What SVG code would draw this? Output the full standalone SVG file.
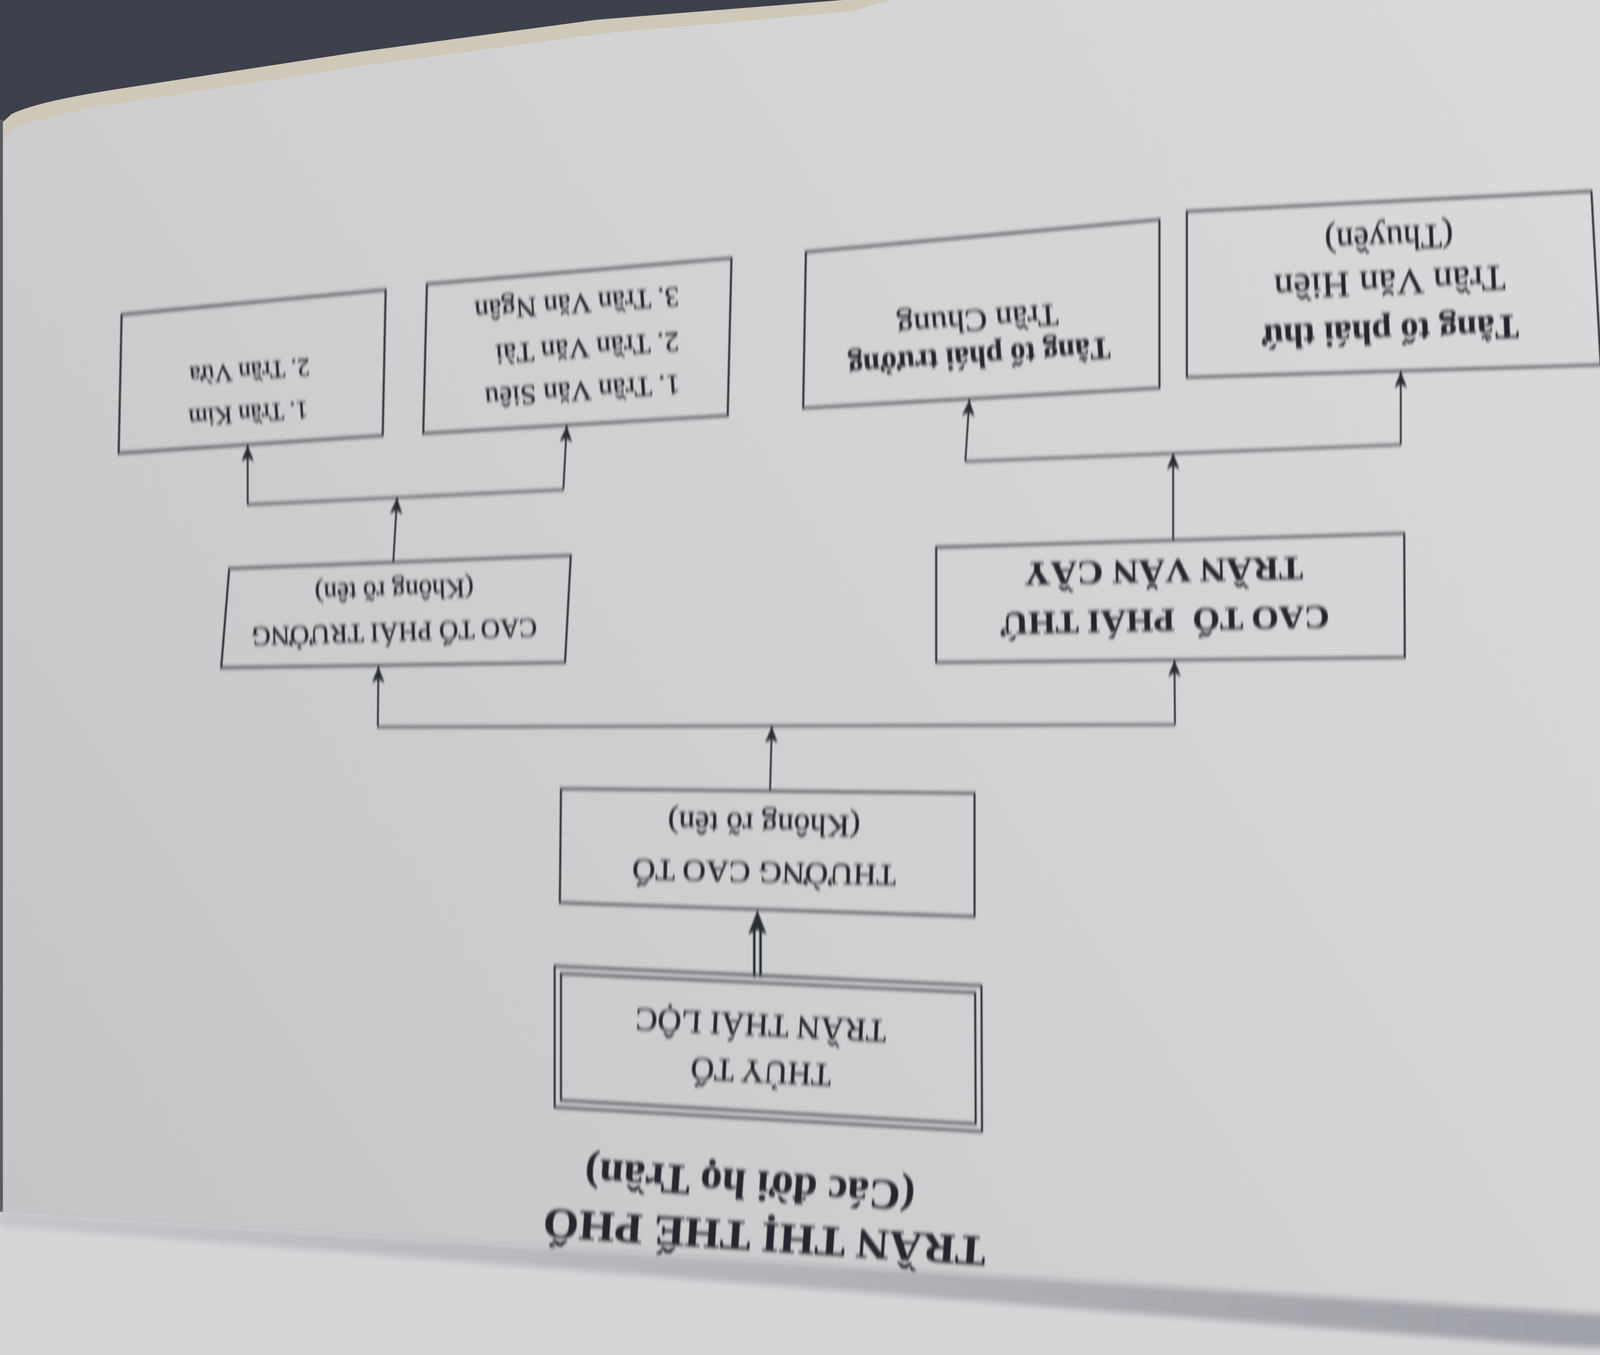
<svg xmlns="http://www.w3.org/2000/svg" width="4624" height="3468" viewBox="0 0 4624 3468">
<defs>
<style>
.t{font-family:"Liberation Serif","DejaVu Serif","Times New Roman",serif;fill:#26272d;stroke:#26272d;stroke-width:0.35;}
.b{font-weight:bold;stroke-width:0.2;}
.box{fill:none;stroke:#33343a;stroke-width:1.8;stroke-linejoin:miter;}
.ln{fill:none;stroke:#33343a;stroke-width:1.6;}
.dbl{fill:none;stroke:#2c2d33;stroke-width:2.2;}
.ar{marker-end:url(#arr);}
</style>
<linearGradient id="pageG" x1="1568" y1="0" x2="0" y2="1060" gradientUnits="userSpaceOnUse">
<stop offset="0" stop-color="#dcdcde"/>
<stop offset="0.55" stop-color="#d1d1d3"/>
<stop offset="1" stop-color="#c5c5c8"/>
</linearGradient>
<linearGradient id="shadowG" x1="0" y1="0" x2="1568" y2="0" gradientUnits="userSpaceOnUse">
<stop offset="0" stop-color="#c4c5c9"/>
<stop offset="1" stop-color="#9a9ca3"/>
</linearGradient>
<marker id="arr" viewBox="-15 -7 16 14" refX="0" refY="0" markerWidth="16" markerHeight="14" markerUnits="userSpaceOnUse" orient="auto">
<path d="M0,0 L-14,-5.5 L-11,0 L-14,5.5 Z" fill="#2c2d33"/>
</marker>
<filter id="shake" x="-0.05" y="-0.1" width="1.1" height="1.2">
<feGaussianBlur stdDeviation="0.35 1.7"/>
</filter>
<filter id="soft" x="-0.05" y="-0.5" width="1.1" height="2">
<feGaussianBlur stdDeviation="3"/>
</filter>
</defs>
<g transform="scale(2.94898)">
<g id="background">
<rect x="0" y="0" width="1568" height="1176" fill="url(#pageG)"/>
<path d="M0,0 L775,0 L738,10 L524,29 L316,57 L108,89 Q38,100 12,112 L0,124 Z" fill="#cdc8b8"/>
<path d="M0,0 L732,0 L519,17 L312,45 L104,77 Q32,88 10,99 L0,108 Z" fill="#3d414b"/>
<rect x="0" y="104" width="2.5" height="948" fill="#585b62"/>
<path d="M0,1052 L1568,1152 L1568,1176 L0,1176 Z" fill="#d6d6d9"/>
<path d="M0,1052 L1568,1152 L1568,1176 L1350,1168 L0,1064 Z" fill="url(#shadowG)" filter="url(#soft)"/>
</g>
<g id="diagram" filter="url(#shake)">
<g id="title">
<text class="t b" font-size="37" text-anchor="middle" textLength="385" lengthAdjust="spacingAndGlyphs" transform="translate(664.5,1061.5) rotate(183.7)">TRẦN THỊ THẾ PHỔ</text>
<text class="t b" font-size="37" text-anchor="middle" textLength="287" lengthAdjust="spacingAndGlyphs" transform="translate(651.8,1016) rotate(184.2)">(Các đời họ Trần)</text>
</g>
<g id="connectors">
<line class="dbl" x1="654.8" y1="848" x2="654.8" y2="806"/>
<line class="dbl" x1="660.2" y1="848" x2="660.2" y2="806"/>
<path d="M657.5,790 L649.5,811 L657.5,807 L665.5,811 Z" fill="#2c2d33"/>
<line class="ln ar" x1="668.5" y1="685.5" x2="670" y2="630.5"/>
<polyline class="ln" points="328,631 1020,629"/>
<line class="ln ar" x1="328" y1="631" x2="328.5" y2="578.5"/>
<line class="ln ar" x1="1020" y1="629" x2="1019.5" y2="573"/>
<line class="ln ar" x1="341.4" y1="488" x2="344.7" y2="432"/>
<polyline class="ln" points="215,438 489,425"/>
<line class="ln ar" x1="215" y1="438" x2="215" y2="386.5"/>
<line class="ln ar" x1="489" y1="425" x2="492" y2="369.5"/>
<line class="ln ar" x1="1018.4" y1="469" x2="1018.4" y2="393.3"/>
<polyline class="ln" points="838,400.5 1216,386"/>
<line class="ln ar" x1="838" y1="400.5" x2="841.5" y2="347"/>
<line class="ln ar" x1="1216" y1="386" x2="1216" y2="322.5"/>
</g>
<g id="node-thuy-to">
<polygon class="box" stroke-width="1.3" points="481.5,838.5 852,855.5 852.5,982 481.5,961"/>
<polygon class="box" stroke-width="4.2" points="487,845 846.5,861.5 847,975.5 487,955"/>
<text class="t" font-size="28" text-anchor="middle" textLength="122" lengthAdjust="spacingAndGlyphs" transform="translate(661,921) rotate(182.8)">THỦY TỔ</text>
<text class="t" font-size="28" text-anchor="middle" textLength="218" lengthAdjust="spacingAndGlyphs" transform="translate(661,880.5) rotate(182.8)">TRẦN THÁI LỘC</text>
</g>
<g id="node-thuong-cao-to">
<polygon class="box" points="487,684.5 846,688.5 846,795.5 486,783.5"/>
<text class="t" font-size="26" text-anchor="middle" textLength="229" lengthAdjust="spacingAndGlyphs" transform="translate(663.5,748.5) rotate(181.3)">THƯỜNG CAO TỔ</text>
<text class="t" font-size="27" text-anchor="middle" textLength="167" lengthAdjust="spacingAndGlyphs" transform="translate(663.5,706.5) rotate(181.3)">(Không rõ tên)</text>
</g>
<g id="node-cao-to-phai-truong">
<polygon class="box" points="199,493.5 495.5,482 490.5,575 192,579.5"/>
<text class="t" font-size="23" text-anchor="middle" textLength="248" lengthAdjust="spacingAndGlyphs" transform="translate(342,541) rotate(178.2)">CAO TỔ PHÁI TRƯỞNG</text>
<text class="t" font-size="23" text-anchor="middle" textLength="138" lengthAdjust="spacingAndGlyphs" transform="translate(342,505) rotate(178.2)">(Không rõ tên)</text>
</g>
<g id="node-cao-to-phai-thu">
<polygon class="box" points="812.7,475 1219,463 1219.5,570.6 812.7,575"/>
<text class="t b" font-size="28" text-anchor="middle" textLength="286" lengthAdjust="spacingAndGlyphs" style="white-space:pre" transform="translate(1011,529) rotate(178.8)">CAO TỔ  PHÁI THỨ</text>
<text class="t b" font-size="29" text-anchor="middle" textLength="242" lengthAdjust="spacingAndGlyphs" transform="translate(1010,486) rotate(178.8)">TRẦN VĂN CẦY</text>
</g>
<g id="node-tran-kim">
<polygon class="box" points="105.6,273 334.8,251.5 332.2,378 103,393.4"/>
<text class="t" font-size="21.5" textLength="104" lengthAdjust="spacingAndGlyphs" transform="translate(267,348.5) rotate(176)">1. Trần Kim</text>
<text class="t" font-size="21.5" textLength="104.7" lengthAdjust="spacingAndGlyphs" transform="translate(268.5,311.5) rotate(176)">2. Trần Vừa</text>
</g>
<g id="node-tran-van-sieu">
<polygon class="box" points="370.6,246.6 635,224 631.7,360.7 367.4,376.2"/>
<text class="t" font-size="24" textLength="170" lengthAdjust="spacingAndGlyphs" transform="translate(590,325.5) rotate(176)">1. Trần Văn Siêu</text>
<text class="t" font-size="24" textLength="160" lengthAdjust="spacingAndGlyphs" transform="translate(589,288.5) rotate(176)">2. Trần Văn Tài</text>
<text class="t" font-size="24" textLength="178" lengthAdjust="spacingAndGlyphs" transform="translate(589,249.5) rotate(176)">3. Trần Văn Ngân</text>
</g>
<g id="node-tang-to-phai-truong">
<polygon class="box" points="699.6,218.7 1006.5,190.6 1006.5,336.8 697.2,354.2"/>
<text class="t b" font-size="27" text-anchor="middle" textLength="228" lengthAdjust="spacingAndGlyphs" transform="translate(849.5,301) rotate(176)">Tằng tổ phái trưởng</text>
<text class="t" font-size="27" text-anchor="middle" textLength="140.5" lengthAdjust="spacingAndGlyphs" transform="translate(848,269) rotate(176)">Trần Chung</text>
</g>
<g id="node-tang-to-phai-thu">
<polygon class="box" points="1030.3,183.5 1381.5,166 1389.6,316.7 1030.3,327.5"/>
<text class="t b" font-size="30" text-anchor="middle" textLength="223" lengthAdjust="spacingAndGlyphs" transform="translate(1206.6,278) rotate(177.6)">Tằng tổ phái thứ</text>
<text class="t" font-size="31" text-anchor="middle" textLength="201" lengthAdjust="spacingAndGlyphs" transform="translate(1206,235) rotate(177.6)">Trần Văn Hiền</text>
<text class="t" font-size="30" text-anchor="middle" textLength="111.6" lengthAdjust="spacingAndGlyphs" transform="translate(1205.4,197) rotate(177.6)">(Thuyền)</text>
</g>
</g>
</g>
</svg>
